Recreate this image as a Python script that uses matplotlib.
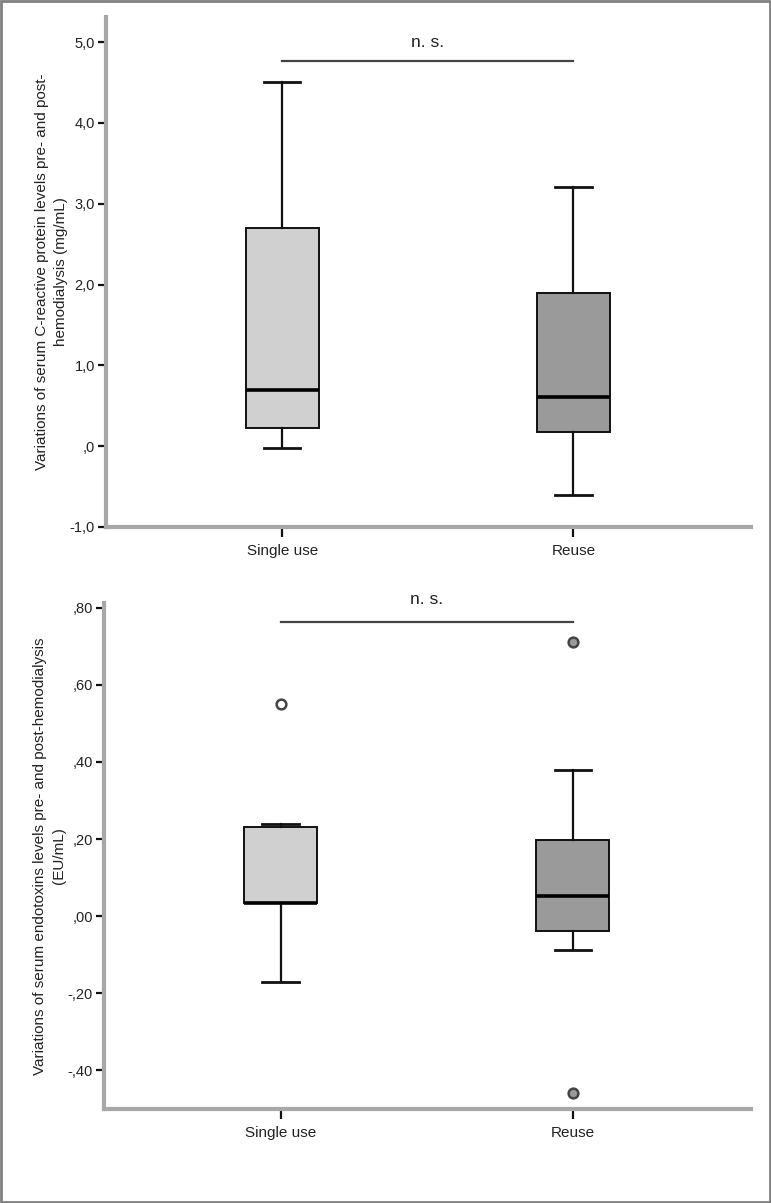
import matplotlib
matplotlib.use("Agg")
import matplotlib.pyplot as plt
from matplotlib.patches import Rectangle

plt.rcParams['font.family'] = ['Liberation Sans', 'DejaVu Sans']

# groups
groups = ['Single use', 'Reuse']
box_colors = ['#d0d0d0', '#9a9a9a']

# CRP variations (mg/mL): whislo, q1, median, q3, whishi
crp_whislo = [-0.02, -0.60]
crp_q1 = [0.22, 0.17]
crp_med = [0.70, 0.61]
crp_q3 = [2.70, 1.90]
crp_whishi = [4.50, 3.21]
crp_fliers = [[], []]
crp_ticks = [-1.0, 0.0, 1.0, 2.0, 3.0, 4.0, 5.0]
crp_ticklabels = ['-1,0', ',0', '1,0', '2,0', '3,0', '4,0', '5,0']

# endotoxin variations (EU/mL)
endo_whislo = [-0.17, -0.088]
endo_q1 = [0.033, -0.039]
endo_med = [0.035, 0.052]
endo_q3 = [0.23, 0.197]
endo_whishi = [0.24, 0.38]
endo_fliers = [[0.55], [0.71, -0.458]]
endo_ticks = [-0.4, -0.2, 0.0, 0.2, 0.4, 0.6, 0.8]
endo_ticklabels = ['-,40', '-,20', ',00', ',20', ',40', ',60', ',80']

fig = plt.figure(figsize=(7.71, 12.03), dpi=100)
W, H = 771, 1203


def make_axes(left, right, top, bottom):
    return fig.add_axes([left / W, 1 - bottom / H, (right - left) / W, (bottom - top) / H])


def draw_panel(ax, whislo, q1, med, q3, whishi, fliers, ticks, ticklabels,
               ylim, ylabel, sig_y, ns_offset):
    stats = []
    for i in range(len(groups)):
        stats.append(dict(whislo=whislo[i], q1=q1[i], med=med[i], q3=q3[i],
                          whishi=whishi[i], fliers=[]))
    bp = ax.bxp(stats, positions=[1, 2], widths=0.25, patch_artist=True,
                showfliers=False,
                boxprops=dict(edgecolor='#111111', linewidth=1.4),
                whiskerprops=dict(color='#111111', linewidth=1.6),
                capprops=dict(color='#111111', linewidth=2.0),
                medianprops=dict(color='#000000', linewidth=2.6),
                capwidths=0.125)
    for patch, c in zip(bp['boxes'], box_colors):
        patch.set_facecolor(c)

    # outliers
    for i, pts in enumerate(fliers):
        if not pts:
            continue
        face = 'white' if i == 0 else '#9a9a9a'
        ax.plot([i + 1] * len(pts), pts, 'o', ms=7, mfc=face,
                mec='#444444', mew=1.8, zorder=4)

    # significance bar
    ax.plot([1, 2], [sig_y, sig_y], color='#444444', lw=1.6, clip_on=False)
    ax.annotate('n. s.', xy=(1.5, sig_y), xytext=(0, ns_offset), textcoords='offset points',
                ha='center', va='bottom', fontsize=12.5, color='#222222',
                annotation_clip=False)

    ax.set_xlim(0.395, 2.61)
    ax.set_ylim(*ylim)
    ax.set_xticks([1, 2])
    ax.set_xticklabels(groups, fontsize=11, color='#222222')
    ax.set_yticks(ticks)
    ax.set_yticklabels(ticklabels, fontsize=10.5, color='#222222')
    ax.set_ylabel(ylabel, fontsize=11, color='#222222', labelpad=1,
                  linespacing=1.45)

    for s in ['top', 'right']:
        ax.spines[s].set_visible(False)
    for s in ['left', 'bottom']:
        ax.spines[s].set_color('#a8a8a8')
        ax.spines[s].set_linewidth(3)
    ax.tick_params(axis='both', direction='out', length=6, width=1.6,
                   color='#111111', pad=2)
    ax.tick_params(axis='x', length=7, pad=5)


ax1 = make_axes(106, 751, 17, 527)
draw_panel(ax1, crp_whislo, crp_q1, crp_med, crp_q3, crp_whishi, crp_fliers,
           crp_ticks, crp_ticklabels, (-1.0, 5.31),
           'Variations of serum C-reactive protein levels pre- and post-\nhemodialysis (mg/mL)',
           4.77, 8)

ax2 = make_axes(104, 751, 603, 1109)
draw_panel(ax2, endo_whislo, endo_q1, endo_med, endo_q3, endo_whishi, endo_fliers,
           endo_ticks, endo_ticklabels, (-0.50, 0.812),
           'Variations of serum endotoxins levels pre- and post-hemodialysis\n(EU/mL)',
           0.763, 11)

# outer frame
fig.patches.append(Rectangle((0.001, 0.001), 0.998, 0.998, transform=fig.transFigure,
                             fill=False, edgecolor='#808080', linewidth=2))

fig.savefig('out.png', dpi=100)
